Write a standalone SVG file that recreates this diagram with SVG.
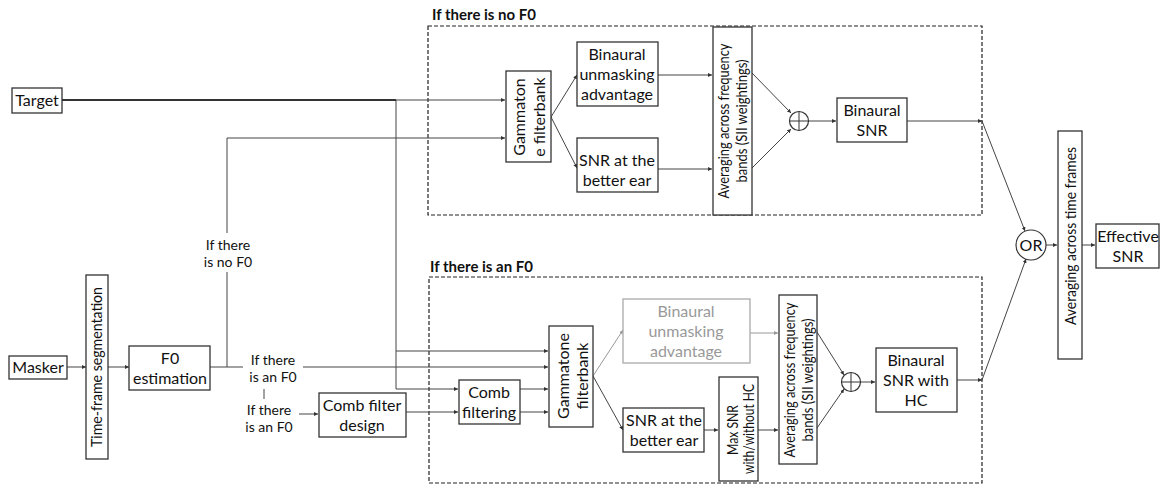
<svg xmlns="http://www.w3.org/2000/svg" width="1160" height="485" viewBox="0 0 1160 485">
<defs>
<marker id="ar" viewBox="0 0 6 6" refX="6" refY="3" markerWidth="4" markerHeight="4" orient="auto" markerUnits="userSpaceOnUse"><path d="M0,0 L6,3 L0,6 z" fill="#333"/></marker>
<marker id="arg" viewBox="0 0 6 6" refX="6" refY="3" markerWidth="4" markerHeight="4" orient="auto" markerUnits="userSpaceOnUse"><path d="M0,0 L6,3 L0,6 z" fill="#999"/></marker>
</defs>
<style>
.b{fill:#fff;stroke:#333;stroke-width:1.3}
.g{fill:#fff;stroke:#aaa;stroke-width:1.3}
.d{fill:none;stroke:#222;stroke-width:1.2;stroke-dasharray:4 2}
.t{font-family:Lato,"Liberation Sans",sans-serif;font-size:16px;fill:#111;text-anchor:middle}
.tg{font-family:Lato,"Liberation Sans",sans-serif;font-size:16px;fill:#999;text-anchor:middle}
.s{font-size:14px}
.m{font-size:14.5px}
.h{font-family:Lato,"Liberation Sans",sans-serif;font-size:15px;font-weight:bold;fill:#111}
.c{fill:none;stroke:#444;stroke-width:1}
.cg{fill:none;stroke:#999;stroke-width:1}
</style>
<rect width="1160" height="485" fill="#fff"/>

<g id="frames">
<rect class="d" x="428" y="26" width="554" height="189"/>
<text class="h" x="432" y="20">If there is no F0</text>
<rect class="d" x="429" y="277" width="553" height="206"/>
<text class="h" x="430" y="272">If there is an F0</text>
</g>

<g id="connectors">
<path d="M62,100 H396" stroke="#333" stroke-width="2" fill="none"/>
<path class="c" d="M396,100 H505" marker-end="url(#ar)"/>
<path class="c" d="M396,100 V389 H458" marker-end="url(#ar)"/>
<path class="c" d="M396,351 H548" marker-end="url(#ar)"/>
<path class="c" d="M227,233 V138 H505" marker-end="url(#ar)"/>
<path class="c" d="M67,367 H86" marker-end="url(#ar)"/>
<path class="c" d="M108,367 H129" marker-end="url(#ar)"/>
<path class="c" d="M210,367 H243"/>
<path class="c" d="M227,367 V272"/>
<path class="c" d="M303,367 H548" marker-end="url(#ar)"/>
<path class="c" d="M264,389 V399"/>
<path class="c" d="M299,414 H318" marker-end="url(#ar)"/>
<path class="c" d="M406,412 H458" marker-end="url(#ar)"/>
<path class="c" d="M520,389 H548" marker-end="url(#ar)"/>
<path class="c" d="M520,412 H548" marker-end="url(#ar)"/>
<!-- top branch -->
<path class="c" d="M551,117 L577,75" marker-end="url(#ar)"/>
<path class="c" d="M551,117 L577,168" marker-end="url(#ar)"/>
<path class="c" d="M658,75 H712" marker-end="url(#ar)"/>
<path class="c" d="M658,169 H712" marker-end="url(#ar)"/>
<path class="c" d="M752,73 L791,113" marker-end="url(#ar)"/>
<path class="c" d="M752,168 L791,129" marker-end="url(#ar)"/>
<path class="c" d="M808,121 H836" marker-end="url(#ar)"/>
<path class="c" d="M907,121 H982" marker-end="url(#ar)"/>
<path class="c" d="M982,121 L1025,231" marker-end="url(#ar)"/>
<!-- bottom branch -->
<path class="cg" d="M593,376 L623,330" marker-end="url(#arg)"/>
<path class="c" d="M593,376 L623,430" marker-end="url(#ar)"/>
<path class="cg" d="M750,333 H778" marker-end="url(#arg)"/>
<path class="c" d="M704,430 H718" marker-end="url(#ar)"/>
<path class="c" d="M758,430 H778" marker-end="url(#ar)"/>
<path class="c" d="M817,332 L844,375" marker-end="url(#ar)"/>
<path class="c" d="M817,428 L844,389" marker-end="url(#ar)"/>
<path class="c" d="M861,382 H875" marker-end="url(#ar)"/>
<path class="c" d="M957,380 H982" marker-end="url(#ar)"/>
<path class="c" d="M982,380 L1026,259" marker-end="url(#ar)"/>
<path class="c" d="M1046,245 H1057" marker-end="url(#ar)"/>
<path class="c" d="M1082,245 H1095" marker-end="url(#ar)"/>
</g>

<g id="target">
<rect class="b" x="12" y="88" width="50" height="25"/>
<text class="t" x="37" y="106">Target</text>
</g>
<g id="masker">
<rect class="b" x="9" y="356" width="58" height="23"/>
<text class="t" x="38" y="373">Masker</text>
</g>
<g id="segmentation">
<rect class="b" x="86" y="275" width="22" height="184"/>
<text class="t m" textLength="160" lengthAdjust="spacingAndGlyphs" transform="translate(102,367) rotate(-90)">Time-frame segmentation</text>
</g>
<g id="f0est">
<rect class="b" x="129" y="346" width="81" height="44"/>
<text class="t" x="170" y="364">F0</text>
<text class="t" x="170" y="384">estimation</text>
</g>
<g id="label-nof0">
<text class="t s" x="228" y="250">If there</text>
<text class="t s" x="228" y="267">is no F0</text>
</g>
<g id="label-anf0-1">
<text class="t s" x="273" y="365">If there</text>
<text class="t s" x="273" y="382">is an F0</text>
</g>
<g id="label-anf0-2">
<text class="t s" x="269" y="415">If there</text>
<text class="t s" x="269" y="432">is an F0</text>
</g>
<g id="combdesign">
<rect class="b" x="319" y="393" width="87" height="44"/>
<text class="t" x="362" y="411">Comb filter</text>
<text class="t" x="362" y="431">design</text>
</g>
<g id="combfilt">
<rect class="b" x="459" y="380" width="61" height="44"/>
<text class="t" x="489" y="398">Comb</text>
<text class="t" x="489" y="418">filtering</text>
</g>

<g id="gamma1">
<rect class="b" x="506" y="71" width="45" height="91"/>
<text class="t" transform="translate(525,117) rotate(-90)">Gammaton</text>
<text class="t" transform="translate(545,117) rotate(-90)">e filterbank</text>
</g>
<g id="bua1">
<rect class="b" x="577" y="42" width="81" height="64"/>
<text class="t" x="617" y="60">Binaural</text>
<text class="t" x="617" y="80">unmasking</text>
<text class="t" x="617" y="100">advantage</text>
</g>
<g id="snr1">
<rect class="b" x="577" y="138" width="81" height="54"/>
<text class="t" x="617" y="166">SNR at the</text>
<text class="t" x="617" y="186">better ear</text>
</g>
<g id="avg1">
<rect class="b" x="713" y="27" width="39" height="188"/>
<text class="t m" textLength="155" lengthAdjust="spacingAndGlyphs" transform="translate(729,121) rotate(-90)">Averaging across frequency</text>
<text class="t m" textLength="123" lengthAdjust="spacingAndGlyphs" transform="translate(747,121) rotate(-90)">bands (SII weightings)</text>
</g>
<g id="sum1">
<circle cx="799" cy="121" r="9.5" fill="#fff" stroke="#333" stroke-width="1.2"/>
<path d="M789.5,121 H808.5 M799,111.5 V130.5" stroke="#333" stroke-width="1"/>
</g>
<g id="bsnr1">
<rect class="b" x="837" y="98" width="70" height="44"/>
<text class="t" x="872" y="116">Binaural</text>
<text class="t" x="872" y="136">SNR</text>
</g>

<g id="gamma2">
<rect class="b" x="549" y="326" width="44" height="101"/>
<text class="t" transform="translate(569,376) rotate(-90)">Gammatone</text>
<text class="t" transform="translate(588,376) rotate(-90)">filterbank</text>
</g>
<g id="bua2">
<rect class="g" x="623" y="299" width="127" height="64"/>
<text class="tg" x="686" y="317">Binaural</text>
<text class="tg" x="686" y="337">unmasking</text>
<text class="tg" x="686" y="357">advantage</text>
</g>
<g id="snr2">
<rect class="b" x="623" y="408" width="81" height="44"/>
<text class="t" x="664" y="426">SNR at the</text>
<text class="t" x="664" y="446">better ear</text>
</g>
<g id="maxsnr">
<rect class="b" x="719" y="377" width="39" height="104"/>
<text class="t m" textLength="50" lengthAdjust="spacingAndGlyphs" transform="translate(738,430) rotate(-90)">Max SNR</text>
<text class="t m" textLength="90" lengthAdjust="spacingAndGlyphs" transform="translate(754,429) rotate(-90)">with/without HC</text>
</g>
<g id="avg2">
<rect class="b" x="779" y="295" width="38" height="169"/>
<text class="t m" textLength="155" lengthAdjust="spacingAndGlyphs" transform="translate(795,380) rotate(-90)">Averaging across frequency</text>
<text class="t m" textLength="123" lengthAdjust="spacingAndGlyphs" transform="translate(813,380) rotate(-90)">bands (SII weightings)</text>
</g>
<g id="sum2">
<circle cx="851" cy="382" r="9.5" fill="#fff" stroke="#333" stroke-width="1.2"/>
<path d="M841.5,382 H860.5 M851,372.5 V391.5" stroke="#333" stroke-width="1"/>
</g>
<g id="bsnr2">
<rect class="b" x="876" y="348" width="81" height="64"/>
<text class="t" x="916" y="366">Binaural</text>
<text class="t" x="916" y="386">SNR with</text>
<text class="t" x="916" y="406">HC</text>
</g>

<g id="or">
<circle cx="1031" cy="245" r="15" fill="#fff" stroke="#333" stroke-width="1.2"/>
<text class="t" x="1031" y="251">OR</text>
</g>
<g id="avgtime">
<rect class="b" x="1058" y="131" width="24" height="228"/>
<text class="t" style="font-size:15px" textLength="178" lengthAdjust="spacingAndGlyphs" transform="translate(1076,236) rotate(-90)">Averaging across time frames</text>
</g>
<g id="effsnr">
<rect class="b" x="1096" y="224" width="63" height="44"/>
<text class="t" x="1128" y="242">Effective</text>
<text class="t" x="1128" y="262">SNR</text>
</g>
</svg>
